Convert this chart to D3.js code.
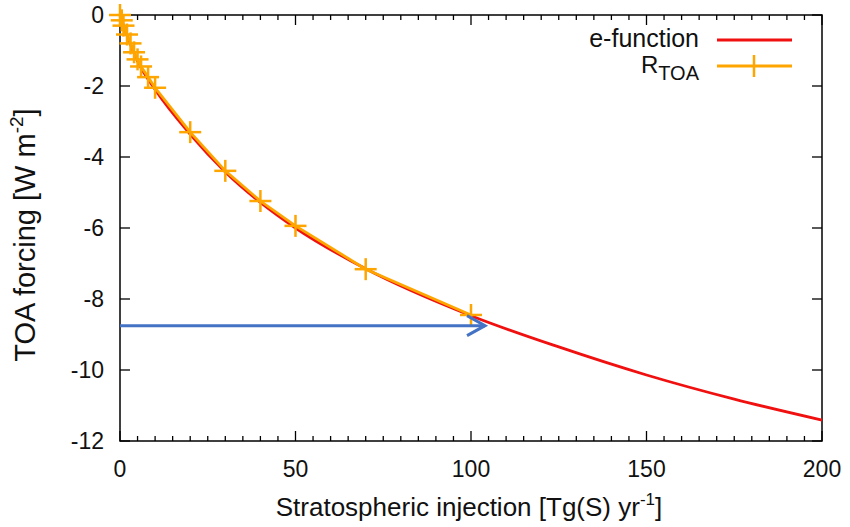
<!DOCTYPE html>
<html>
<head>
<meta charset="utf-8">
<script src="https://cdn.jsdelivr.net/npm/d3@7"></script>
<style>
body { margin: 0; background: #fff; }
text { font-family: "Liberation Sans", Arial, Helvetica, sans-serif; fill: #111; }
.frame { fill: none; stroke: #000; stroke-width: 1.5; }
.tick-line { stroke: #000; stroke-width: 1.3; }
</style>
</head>
<body>
<div id="chart"></div>
<script>
// R_TOA model points
var injX = [0, 0.5, 1, 2, 3, 4, 5, 6, 8, 10, 20, 30, 40, 50, 70, 100];
var injY = [0, -0.15, -0.3, -0.55, -0.8, -1.05, -1.25, -1.45, -1.75, -2.05, -3.3, -4.39, -5.24, -5.94, -7.16, -8.45];
// e-function fit, read at sample points
var fitX = [0, 1, 2, 5, 10, 20, 30, 40, 50, 70, 100, 125, 150, 175, 200];
var fitY = [0, -0.3, -0.58, -1.3, -2.1, -3.36, -4.42, -5.28, -6.0, -7.15, -8.47, -9.35, -10.14, -10.82, -11.41];
// arrow annotation
var arrowX = [0, 104];
var arrowY = -8.75;
var xTicks = [0, 50, 100, 150, 200];
var yTicks = [0, -2, -4, -6, -8, -10, -12];

var margin = {
    top: 15,
    right: 28,
    bottom: 86,
    left: 120
};
var width = 850 - margin.left - margin.right,
    height = 527 - margin.top - margin.bottom;

var svg = d3.select("#chart").append("svg")
    .attr("width", 850)
    .attr("height", 527)
    .append("g")
    .attr("transform", "translate(" + margin.left + "," + margin.top + ")");

var x = d3.scaleLinear().domain([0, 200]).range([0, width]);
var y = d3.scaleLinear().domain([0, -12]).range([0, height]);

// ticks (inward, mirrored)
var minorX = d3.range(0, 201, 5);
svg.append("g").selectAll("line")
    .data(minorX)
    .enter().append("line")
    .attr("class", "tick-line")
    .attr("x1", function(d) { return x(d); })
    .attr("x2", function(d) { return x(d); })
    .attr("y1", height)
    .attr("y2", function(d) { return height - (d % 50 == 0 ? 10 : 5); });
svg.append("g").selectAll("line")
    .data(minorX)
    .enter().append("line")
    .attr("class", "tick-line")
    .attr("x1", function(d) { return x(d); })
    .attr("x2", function(d) { return x(d); })
    .attr("y1", 0)
    .attr("y2", function(d) { return d % 50 == 0 ? 10 : 5; });
svg.append("g").selectAll("line")
    .data(yTicks)
    .enter().append("line")
    .attr("class", "tick-line")
    .attr("x1", 0)
    .attr("x2", 10)
    .attr("y1", function(d) { return y(d); })
    .attr("y2", function(d) { return y(d); });
svg.append("g").selectAll("line")
    .data(yTicks)
    .enter().append("line")
    .attr("class", "tick-line")
    .attr("x1", width)
    .attr("x2", width - 10)
    .attr("y1", function(d) { return y(d); })
    .attr("y2", function(d) { return y(d); });

// tick labels
svg.append("g").selectAll("text")
    .data(xTicks)
    .enter().append("text")
    .attr("x", function(d) { return x(d); })
    .attr("y", height + 36)
    .attr("text-anchor", "middle")
    .style("font-size", "23px")
    .text(function(d) { return d; });
svg.append("g").selectAll("text")
    .data(yTicks)
    .enter().append("text")
    .attr("x", -16)
    .attr("y", function(d) { return y(d) + 8; })
    .attr("text-anchor", "end")
    .style("font-size", "23px")
    .text(function(d) { return d; });

svg.append("rect")
    .attr("class", "frame")
    .attr("width", width)
    .attr("height", height);

// axis titles
var xl = svg.append("text")
    .attr("x", 349)
    .attr("y", height + 75)
    .attr("text-anchor", "middle")
    .style("font-size", "26px");
xl.append("tspan").text("Stratospheric injection [Tg(S) yr");
xl.append("tspan").attr("dy", -11).style("font-size", "17px").text("-1");
xl.append("tspan").attr("dy", 11).text("]");

var yl = svg.append("text")
    .attr("transform", "translate(" + (-85) + "," + 220 + ") rotate(-90)")
    .attr("text-anchor", "middle")
    .style("font-size", "29px");
yl.append("tspan").text("TOA forcing [W m");
yl.append("tspan").attr("dy", -12).style("font-size", "19px").text("-2");
yl.append("tspan").attr("dy", 12).text("]");

// e-function curve
var fitData = fitX.map(function(d, i) { return {x: d, y: fitY[i]}; });
var injData = injX.map(function(d, i) { return {x: d, y: injY[i]}; });

svg.append("path")
    .datum(fitData)
    .attr("fill", "none")
    .attr("stroke", "#f01010")
    .attr("stroke-width", 2.8)
    .attr("d", d3.line()
        .curve(d3.curveMonotoneX)
        .x(function(d) { return x(d.x); })
        .y(function(d) { return y(d.y); }));

// R_TOA line + crosses
svg.append("path")
    .datum(injData)
    .attr("fill", "none")
    .attr("stroke", "#ffa500")
    .attr("stroke-width", 2.8)
    .attr("d", d3.line()
        .x(function(d) { return x(d.x); })
        .y(function(d) { return y(d.y); }));

var cs = 11;
var crosses = svg.append("g").selectAll("g")
    .data(injData)
    .enter().append("g")
    .attr("transform", function(d) { return "translate(" + x(d.x) + "," + y(d.y) + ")"; });
crosses.append("line")
    .attr("x1", -cs).attr("x2", cs).attr("y1", 0).attr("y2", 0)
    .attr("stroke", "#ffa500").attr("stroke-width", 2.5);
crosses.append("line")
    .attr("x1", 0).attr("x2", 0).attr("y1", -cs).attr("y2", cs)
    .attr("stroke", "#ffa500").attr("stroke-width", 2.5);

// blue arrow
var ay = y(arrowY), ax1 = x(arrowX[1]);
svg.append("line")
    .attr("x1", x(arrowX[0])).attr("x2", ax1)
    .attr("y1", ay).attr("y2", ay)
    .attr("stroke", "#4472c4").attr("stroke-width", 3);
svg.append("path")
    .attr("d", "M" + (ax1 - 18) + "," + (ay - 10) + "L" + ax1 + "," + ay + "L" + (ax1 - 18) + "," + (ay + 10))
    .attr("fill", "none")
    .attr("stroke", "#4472c4")
    .attr("stroke-width", 3)
    .attr("stroke-linejoin", "miter");

// legend
var lg = svg.append("g");
lg.append("text")
    .attr("x", 699 - margin.left)
    .attr("y", 47 - margin.top)
    .attr("text-anchor", "end")
    .style("font-size", "25px")
    .text("e-function");
lg.append("line")
    .attr("x1", 717 - margin.left).attr("x2", 792 - margin.left)
    .attr("y1", 40 - margin.top).attr("y2", 40 - margin.top)
    .attr("stroke", "#f01010").attr("stroke-width", 2.8);
var rt = lg.append("text")
    .attr("x", 699 - margin.left)
    .attr("y", 73 - margin.top)
    .attr("text-anchor", "end")
    .style("font-size", "24px");
rt.append("tspan").text("R");
rt.append("tspan").attr("dy", 7).style("font-size", "20px").text("TOA");
lg.append("line")
    .attr("x1", 717 - margin.left).attr("x2", 792 - margin.left)
    .attr("y1", 66 - margin.top).attr("y2", 66 - margin.top)
    .attr("stroke", "#ffa500").attr("stroke-width", 2.8);
lg.append("line")
    .attr("x1", 754 - margin.left).attr("x2", 754 - margin.left)
    .attr("y1", 66 - margin.top - cs).attr("y2", 66 - margin.top + cs)
    .attr("stroke", "#ffa500").attr("stroke-width", 2.5);
</script>
</body>
</html>
